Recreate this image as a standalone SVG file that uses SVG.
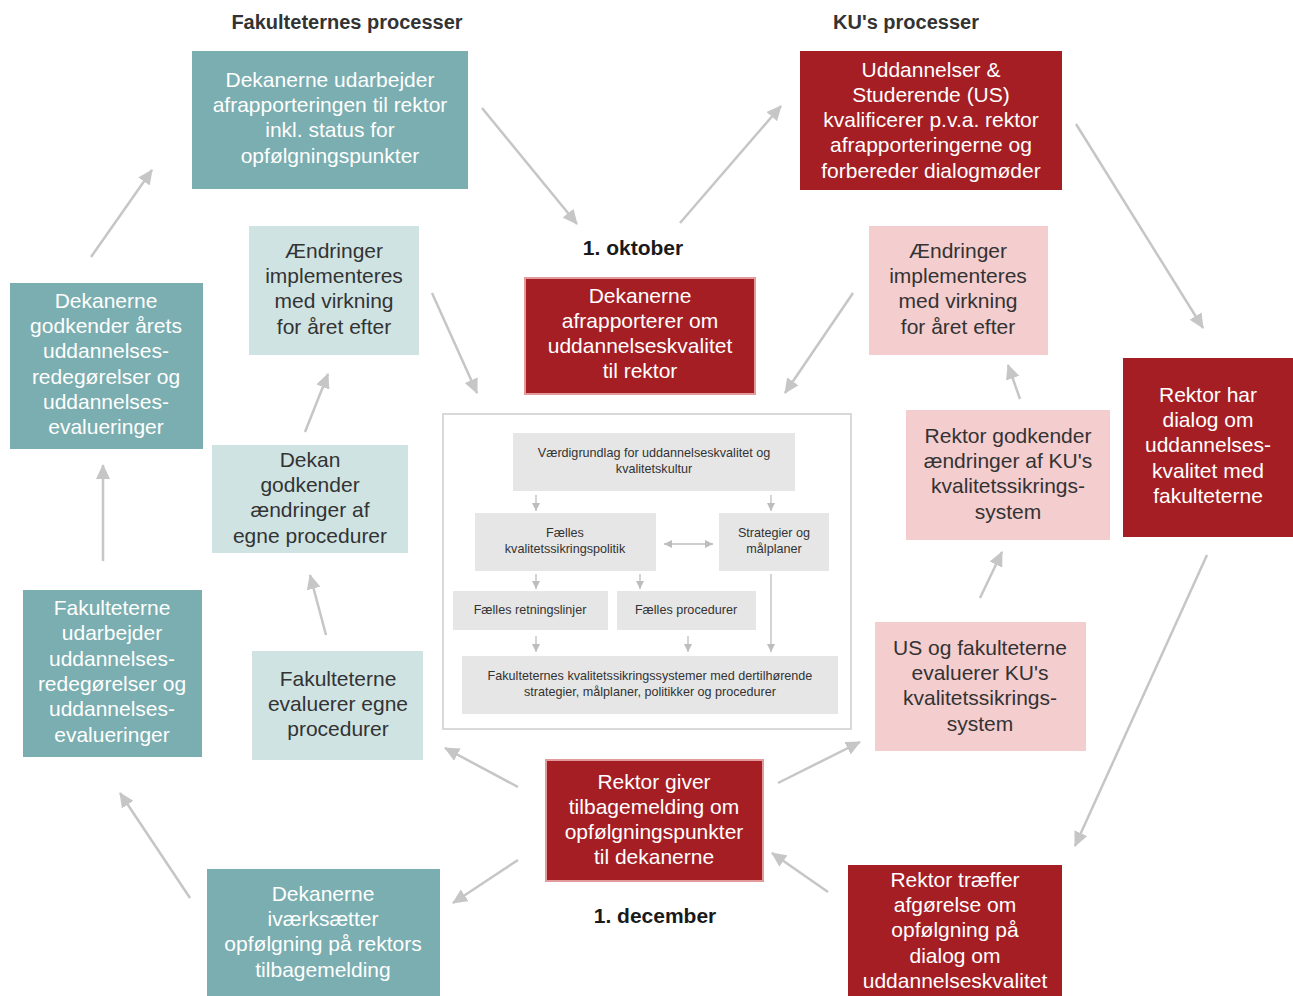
<svg xmlns="http://www.w3.org/2000/svg" width="1293" height="996" viewBox="0 0 1293 996">
<defs>
<style>
.t{font-family:"Liberation Sans",Arial,sans-serif;font-size:21px;text-anchor:middle}
.w{fill:#ffffff}
.d{fill:#333333}
.h{font-family:"Liberation Sans",Arial,sans-serif;font-size:20px;font-weight:bold;fill:#333;text-anchor:middle}
.dt{font-family:"Liberation Sans",Arial,sans-serif;font-size:21px;font-weight:bold;fill:#1a1a1a;text-anchor:middle}
.s{font-family:"Liberation Sans",Arial,sans-serif;font-size:12.6px;fill:#333;text-anchor:middle}
.teal{fill:#7aaeb0}
.red{fill:#a51e24}
.redb{fill:#a51e24;stroke:#e39a9c;stroke-width:2}
.lt{fill:#cfe3e3}
.pk{fill:#f4cdce}
.g{fill:#e6e6e6}
.c{stroke:#c6c6c6;stroke-width:2.5;fill:none;marker-end:url(#ah)}
.cs{stroke:#bdbdbd;stroke-width:1.3;fill:none;marker-end:url(#sh)}
</style>
<marker id="ah" markerUnits="userSpaceOnUse" markerWidth="16" markerHeight="14" refX="14" refY="7" orient="auto">
<path d="M0,0 L15,7 L0,14 Z" fill="#c6c6c6"/>
</marker>
<marker id="sh" markerUnits="userSpaceOnUse" markerWidth="9" markerHeight="8" refX="8" refY="4" orient="auto-start-reverse">
<path d="M0,0 L8,4 L0,8 Z" fill="#bdbdbd"/>
</marker>
</defs>
<rect width="1293" height="996" fill="#ffffff"/>

<text class="h" x="347" y="29">Fakulteternes processer</text>
<text class="h" x="906" y="29">KU's processer</text>
<text class="dt" x="633" y="255">1. oktober</text>
<text class="dt" x="655" y="923">1. december</text>

<g id="connectors">
<line class="c" x1="482" y1="108" x2="577" y2="224"/>
<line class="c" x1="680" y1="223" x2="781" y2="106"/>
<line class="c" x1="1076" y1="124" x2="1203" y2="328"/>
<line class="c" x1="1207" y1="555" x2="1075" y2="846"/>
<line class="c" x1="828" y1="892" x2="772" y2="853"/>
<line class="c" x1="778" y1="783" x2="860" y2="742"/>
<line class="c" x1="518" y1="787" x2="445" y2="748"/>
<line class="c" x1="518" y1="860" x2="453" y2="903"/>
<line class="c" x1="190" y1="898" x2="120" y2="793"/>
<line class="c" x1="103" y1="561" x2="103" y2="465"/>
<line class="c" x1="91" y1="257" x2="152" y2="170"/>
<line class="c" x1="432" y1="293" x2="477" y2="393"/>
<line class="c" x1="853" y1="293" x2="785" y2="393"/>
<line class="c" x1="326" y1="635" x2="310" y2="575"/>
<line class="c" x1="305" y1="432" x2="328" y2="374"/>
<line class="c" x1="980" y1="598" x2="1002" y2="552"/>
<line class="c" x1="1020" y1="399" x2="1008" y2="365"/>
</g>

<g id="nA"><rect class="teal" x="192" y="51" width="276" height="138"/>
<text class="t w" x="330" y="87">Dekanerne udarbejder</text><text class="t w" x="330" y="112">afrapporteringen til rektor</text><text class="t w" x="330" y="137">inkl. status for</text><text class="t w" x="330" y="163">opfølgningspunkter</text></g>

<g id="nB"><rect class="red" x="800" y="51" width="262" height="139"/>
<text class="t w" x="931" y="77">Uddannelser &amp;</text><text class="t w" x="931" y="102">Studerende (US)</text><text class="t w" x="931" y="127">kvalificerer p.v.a. rektor</text><text class="t w" x="931" y="152">afrapporteringerne og</text><text class="t w" x="931" y="178">forbereder dialogmøder</text></g>

<g id="nC"><rect class="redb" x="525" y="278" width="230" height="116"/>
<text class="t w" x="640" y="303">Dekanerne</text><text class="t w" x="640" y="328">afrapporterer om</text><text class="t w" x="640" y="353">uddannelseskvalitet</text><text class="t w" x="640" y="378">til rektor</text></g>

<g id="nD"><rect class="lt" x="249" y="226" width="170" height="129"/>
<text class="t d" x="334" y="258">Ændringer</text><text class="t d" x="334" y="283">implementeres</text><text class="t d" x="334" y="308">med virkning</text><text class="t d" x="334" y="334">for året efter</text></g>

<g id="nE"><rect class="pk" x="869" y="226" width="179" height="129"/>
<text class="t d" x="958" y="258">Ændringer</text><text class="t d" x="958" y="283">implementeres</text><text class="t d" x="958" y="308">med virkning</text><text class="t d" x="958" y="334">for året efter</text></g>

<g id="nF"><rect class="teal" x="10" y="283" width="193" height="166"/>
<text class="t w" x="106" y="308">Dekanerne</text><text class="t w" x="106" y="333">godkender årets</text><text class="t w" x="106" y="358">uddannelses-</text><text class="t w" x="106" y="384">redegørelser og</text><text class="t w" x="106" y="409">uddannelses-</text><text class="t w" x="106" y="434">evalueringer</text></g>

<g id="nG"><rect class="red" x="1123" y="358" width="170" height="179"/>
<text class="t w" x="1208" y="402">Rektor har</text><text class="t w" x="1208" y="427">dialog om</text><text class="t w" x="1208" y="452">uddannelses-</text><text class="t w" x="1208" y="478">kvalitet med</text><text class="t w" x="1208" y="503">fakulteterne</text></g>

<g id="nH"><rect class="lt" x="212" y="445" width="196" height="108"/>
<text class="t d" x="310" y="467">Dekan</text><text class="t d" x="310" y="492">godkender</text><text class="t d" x="310" y="517">ændringer af</text><text class="t d" x="310" y="543">egne procedurer</text></g>

<g id="nI"><rect class="pk" x="906" y="410" width="204" height="130"/>
<text class="t d" x="1008" y="443">Rektor godkender</text><text class="t d" x="1008" y="468">ændringer af KU's</text><text class="t d" x="1008" y="493">kvalitetssikrings-</text><text class="t d" x="1008" y="519">system</text></g>

<g id="nCenter">
<rect x="443" y="414" width="408" height="315" fill="#ffffff" stroke="#d9d9d9" stroke-width="2"/>
<rect class="g" x="513" y="433" width="282" height="58"/>
<text class="s" x="654" y="457">Værdigrundlag for uddannelseskvalitet og</text><text class="s" x="654" y="473">kvalitetskultur</text>
<rect class="g" x="475" y="513" width="181" height="58"/>
<text class="s" x="565" y="537">Fælles</text><text class="s" x="565" y="553">kvalitetssikringspolitik</text>
<rect class="g" x="719" y="513" width="110" height="58"/>
<text class="s" x="774" y="537">Strategier og</text><text class="s" x="774" y="553">målplaner</text>
<rect class="g" x="453" y="591" width="155" height="39"/>
<text class="s" x="530" y="614">Fælles retningslinjer</text>
<rect class="g" x="617" y="591" width="139" height="39"/>
<text class="s" x="686" y="614">Fælles procedurer</text>
<rect class="g" x="462" y="656" width="376" height="58"/>
<text class="s" x="650" y="680">Fakulteternes kvalitetssikringssystemer med dertilhørende</text><text class="s" x="650" y="696">strategier, målplaner, politikker og procedurer</text>
<g id="inner-connectors">
<line class="cs" x1="536" y1="495" x2="536" y2="511"/>
<line class="cs" x1="771" y1="495" x2="771" y2="511"/>
<line class="cs" x1="664" y1="544" x2="713" y2="544" marker-start="url(#sh)"/>
<line class="cs" x1="536" y1="574" x2="536" y2="589"/>
<line class="cs" x1="640" y1="574" x2="640" y2="589"/>
<line class="cs" x1="536" y1="636" x2="536" y2="652"/>
<line class="cs" x1="688" y1="636" x2="688" y2="652"/>
<line class="cs" x1="771" y1="574" x2="771" y2="652"/>
</g>
</g>

<g id="nJ"><rect class="teal" x="23" y="590" width="179" height="167"/>
<text class="t w" x="112" y="615">Fakulteterne</text><text class="t w" x="112" y="640">udarbejder</text><text class="t w" x="112" y="666">uddannelses-</text><text class="t w" x="112" y="691">redegørelser og</text><text class="t w" x="112" y="716">uddannelses-</text><text class="t w" x="112" y="742">evalueringer</text></g>

<g id="nK"><rect class="lt" x="252" y="651" width="171" height="109"/>
<text class="t d" x="338" y="686">Fakulteterne</text><text class="t d" x="338" y="711">evaluerer egne</text><text class="t d" x="338" y="736">procedurer</text></g>

<g id="nL"><rect class="pk" x="875" y="622" width="211" height="129"/>
<text class="t d" x="980" y="655">US og fakulteterne</text><text class="t d" x="980" y="680">evaluerer KU's</text><text class="t d" x="980" y="705">kvalitetssikrings-</text><text class="t d" x="980" y="731">system</text></g>

<g id="nM"><rect class="redb" x="546" y="760" width="217" height="121"/>
<text class="t w" x="654" y="789">Rektor giver</text><text class="t w" x="654" y="814">tilbagemelding om</text><text class="t w" x="654" y="839">opfølgningspunkter</text><text class="t w" x="654" y="864">til dekanerne</text></g>

<g id="nN"><rect class="teal" x="207" y="869" width="233" height="127"/>
<text class="t w" x="323" y="901">Dekanerne</text><text class="t w" x="323" y="926">iværksætter</text><text class="t w" x="323" y="951">opfølgning på rektors</text><text class="t w" x="323" y="977">tilbagemelding</text></g>

<g id="nO"><rect class="red" x="848" y="865" width="214" height="131"/>
<text class="t w" x="955" y="887">Rektor træffer</text><text class="t w" x="955" y="912">afgørelse om</text><text class="t w" x="955" y="937">opfølgning på</text><text class="t w" x="955" y="963">dialog om</text><text class="t w" x="955" y="988">uddannelseskvalitet</text></g>
</svg>
